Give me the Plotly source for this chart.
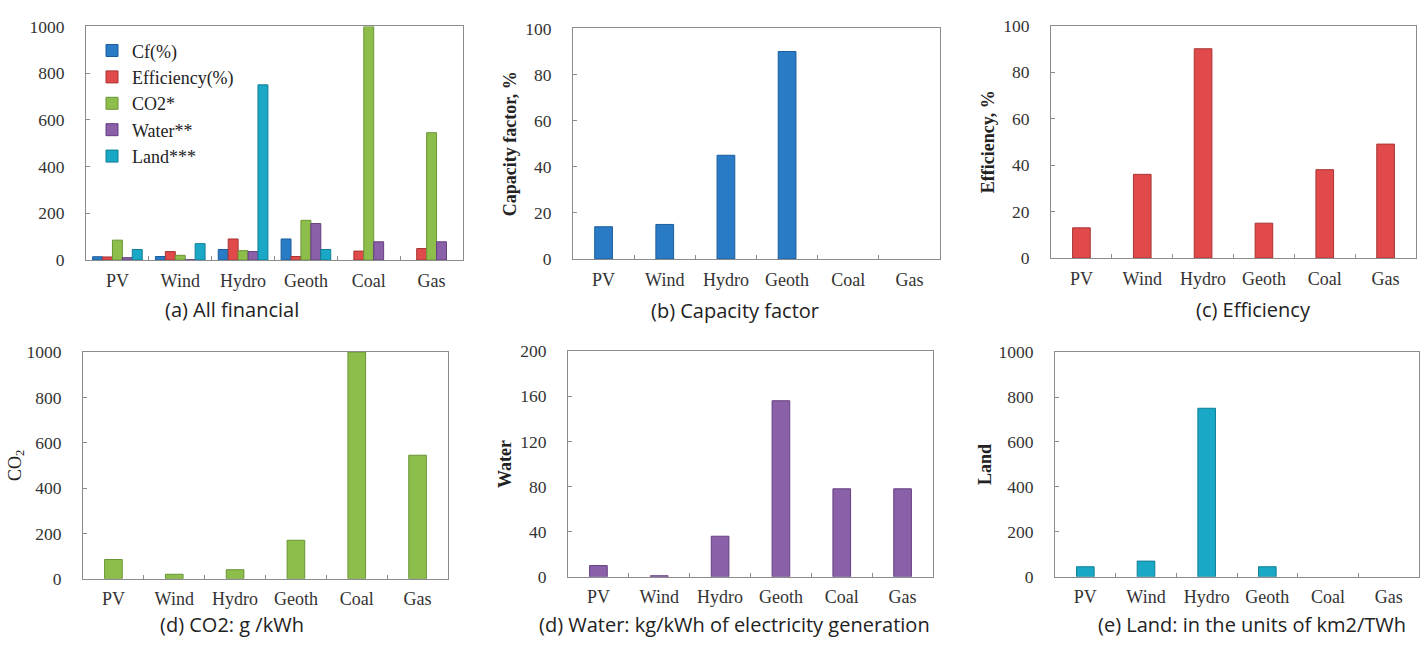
import plotly.graph_objects as go

W, H = 1428, 645

categories = ["PV", "Wind", "Hydro", "Geoth", "Coal", "Gas"]
cf = [14, 15, 45, 90, None, None]
efficiency = [13, 36, 90, 15, 38, 49]
co2 = [85, 20, 40, 170, 1000, 545]
water = [10, 1, 36, 156, 78, 78]
land = [45, 70, 750, 45, None, None]

series_names = ["Cf(%)", "Efficiency(%)", "CO2*", "Water**", "Land***"]
series_vals = [cf, efficiency, co2, water, land]
fills = ["#2a7bc6", "#e04a4a", "#8dbd4b", "#8a60a8", "#19a8c6"]
edges = ["#1b5e9c", "#a83434", "#6a9436", "#643f80", "#117e96"]

captions = ["(a) All financial", "(b) Capacity factor", "(c) Efficiency",
            "(d) CO2: g /kWh", "(d) Water: kg/kWh of electricity generation",
            "(e) Land: in the units of km2/TWh"]
ytitles = [None, "<b>Capacity factor, %</b>", "<b>Efficiency, %</b>",
           "CO<sub>2</sub>", "<b>Water</b>", "<b>Land</b>"]
yranges = [[0, 1000], [0, 100], [0, 100], [0, 1000], [0, 200], [0, 1000]]
ydticks = [200, 20, 20, 200, 40, 200]

# plot-area pixel boxes (left, right, top, bottom)
boxes = [(86, 463, 17, 258), (573, 940, 19, 257), (1051, 1416, 16, 256),
         (83, 448, 353, 587), (568, 933, 352, 585), (1055, 1419, 353, 585)]
cap_pos = [(232, 309), (735, 310), (1253, 309), (232, 634), (735, 634), (1252, 634)]
title_standoff = [0, 3, 3, 0, 3, 2]

fig = go.Figure()

# panel (a): grouped bars
for name, vals, fc, ec in zip(series_names, series_vals, fills, edges):
    fig.add_trace(go.Bar(x=categories, y=vals, name=name, marker_color=fc,
                         marker_line=dict(color=ec, width=1),
                         xaxis="x", yaxis="y", legendgroup=name))

# single-series panels
single = [(cf, 0), (efficiency, 1), (co2, 2), (water, 3), (land, 4)]
for i, (vals, si) in enumerate(single):
    k = i + 2
    fig.add_trace(go.Bar(x=categories, y=vals, name=series_names[si],
                         marker_color=fills[si],
                         marker_line=dict(color=edges[si], width=1),
                         width=0.29, showlegend=False,
                         xaxis=f"x{k}", yaxis=f"y{k}"))

xtickfont = dict(family="Liberation Serif", size=18, color="#333333")
ytickfont = dict(family="Liberation Serif", size=17.5, color="#333333")
layout = dict(
    width=W, height=H, margin=dict(l=0, r=0, t=0, b=0),
    paper_bgcolor="white", plot_bgcolor="white",
    barmode="group", bargap=0.21, bargroupgap=0,
    showlegend=True,
    legend=dict(x=92 / W, y=1 - 23 / H, xanchor="left", yanchor="top",
                bgcolor="rgba(0,0,0,0)", itemwidth=30,
                font=dict(family="Liberation Serif", size=18, color="#222222"),
                tracegroupgap=0),
)

annotations = []
for i, (l, r, t, b) in enumerate(boxes):
    sfx = "" if i == 0 else str(i + 1)
    layout["xaxis" + sfx] = dict(
        domain=[l / W, r / W], anchor="y" + sfx, type="category",
        showline=True, mirror=True, linecolor="#8c8c8c", linewidth=1,
        ticks="inside", tickson="boundaries", ticklen=4, tickcolor="#8c8c8c",
        showgrid=False, zeroline=False, tickfont=xtickfont,
        ticklabelstandoff=4, fixedrange=True)
    yax = dict(
        domain=[1 - b / H, 1 - t / H], anchor="x" + sfx,
        range=yranges[i], dtick=ydticks[i], tick0=0,
        showline=True, mirror=True, linecolor="#8c8c8c", linewidth=1,
        ticks="inside", ticklen=4, tickcolor="#8c8c8c",
        showgrid=False, zeroline=False, tickfont=ytickfont,
        ticklabelstandoff=17, fixedrange=True)
    if ytitles[i]:
        yax["title"] = dict(text=ytitles[i], standoff=title_standoff[i],
                            font=dict(family="Liberation Serif", size=18, color="#222222"))
    layout["yaxis" + sfx] = yax
    cx, cy = cap_pos[i]
    annotations.append(dict(text=captions[i], x=cx / W, y=1 - cy / H,
                            xref="paper", yref="paper", showarrow=False,
                            xanchor="center", yanchor="middle",
                            font=dict(family="Open Sans", size=20, color="#222222")))

layout["annotations"] = annotations
fig.update_layout(**layout)
fig.write_html("out.html", config={"displayModeBar": False},
               post_script="document.body.style.margin='0';document.body.style.overflow='hidden';")
